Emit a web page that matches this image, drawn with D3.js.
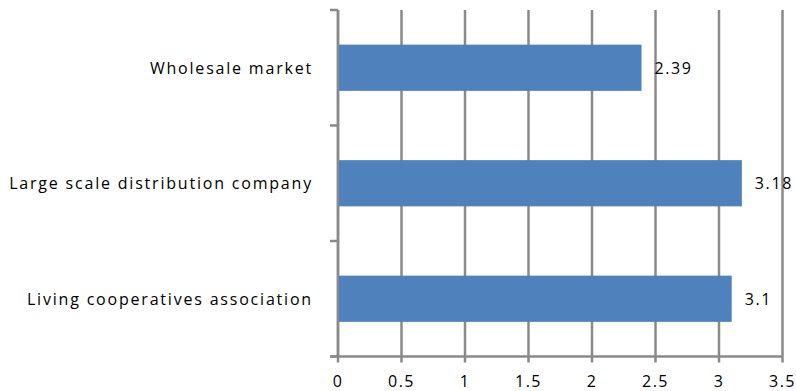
<!DOCTYPE html>
<html>
<head>
	<meta charset="utf-8">
	<title>Horizontal Bar</title>
	<script type="text/javascript" src="https://cdn.jsdelivr.net/npm/d3@7"></script>
	<style>
		body { margin: 0; background: #fff; }
		text { font-family: "Open Sans", "Liberation Sans", sans-serif; fill: #000; }
	</style>
</head>
<body>
	<script type="text/javascript">
		var svgWidth = 796;
		var svgHeight = 391;
		// data, top to bottom
		var categories = ["Wholesale market", "Large scale distribution company", "Living cooperatives association"];
		var values = [2.39, 3.18, 3.1];
		var xTicks = [0, 0.5, 1, 1.5, 2, 2.5, 3, 3.5];

		// 注意: "top" 是 window 的只读属性, 不能用作变量名
		var plotLeft = 338, plotRight = 782.5, plotTop = 10, plotBottom = 356.5;
		var gridColor = "#8a8a8a";

		var svg = d3.select("body")
					.append("svg")
					.attr("width", svgWidth)
					.attr("height", svgHeight);

		var x = d3.scaleLinear().domain([0, 3.5]).range([plotLeft, plotRight]);
		var y = d3.scaleBand().domain(categories).range([plotTop, plotBottom])
					.paddingInner(0.6).paddingOuter(0.3);

		//竖直网格线 + x 轴刻度
		svg.selectAll("line.grid")
			.data(xTicks)
			.enter()
			.append("line")
			.attr("class", "grid")
			.attr("x1", function(d){ return x(d); })
			.attr("x2", function(d){ return x(d); })
			.attr("y1", plotTop)
			.attr("y2", plotBottom + 6)
			.attr("stroke", gridColor)
			.attr("stroke-width", 2.5);

		// x axis line
		svg.append("line")
			.attr("x1", plotLeft - 8).attr("x2", plotRight)
			.attr("y1", plotBottom).attr("y2", plotBottom)
			.attr("stroke", gridColor).attr("stroke-width", 2.5);

		// y axis line and band ticks
		svg.append("line")
			.attr("x1", plotLeft).attr("x2", plotLeft)
			.attr("y1", plotTop).attr("y2", plotBottom)
			.attr("stroke", gridColor).attr("stroke-width", 2.5);
		var bandEdges = d3.range(categories.length + 1).map(function(i){
			return plotTop + i * (plotBottom - plotTop) / categories.length;
		});
		svg.selectAll("line.ytick")
			.data(bandEdges)
			.enter()
			.append("line")
			.attr("class", "ytick")
			.attr("x1", plotLeft - 8).attr("x2", plotLeft)
			.attr("y1", function(d){ return d; })
			.attr("y2", function(d){ return d; })
			.attr("stroke", gridColor).attr("stroke-width", 2.5);

		// x tick labels
		svg.selectAll("text.xlab")
			.data(xTicks)
			.enter()
			.append("text")
			.attr("class", "xlab")
			.attr("x", function(d){ return x(d); })
			.attr("y", 387)
			.attr("text-anchor", "middle")
			.attr("font-size", "16px")
			.attr("letter-spacing", "1.5px")
			.text(function(d){ return d; });

		// bars
		svg.selectAll("rect")
			.data(values)
			.enter()
			.append("rect")
			.attr("x", x(0) + 1)
			.attr("y", function(d, i){ return y(categories[i]); })
			.attr("width", function(d){ return x(d) - x(0) - 1; })
			.attr("height", y.bandwidth())
			.attr("fill", "#4f81bd");

		// value labels
		svg.selectAll("text.val")
			.data(values)
			.enter()
			.append("text")
			.attr("class", "val")
			.attr("x", function(d){ return x(d) + 13; })
			.attr("y", function(d, i){ return y(categories[i]) + y.bandwidth() / 2 + 6; })
			.attr("font-size", "16px")
			.attr("letter-spacing", "1.6px")
			.text(function(d){ return d; });

		// category labels
		svg.selectAll("text.cat")
			.data(categories)
			.enter()
			.append("text")
			.attr("class", "cat")
			.attr("x", 313)
			.attr("y", function(d){ return y(d) + y.bandwidth() / 2 + 6; })
			.attr("text-anchor", "end")
			.attr("font-size", "16px")
			.attr("letter-spacing", "1.8px")
			.text(function(d){ return d; });
	</script>
</body>
</html>
